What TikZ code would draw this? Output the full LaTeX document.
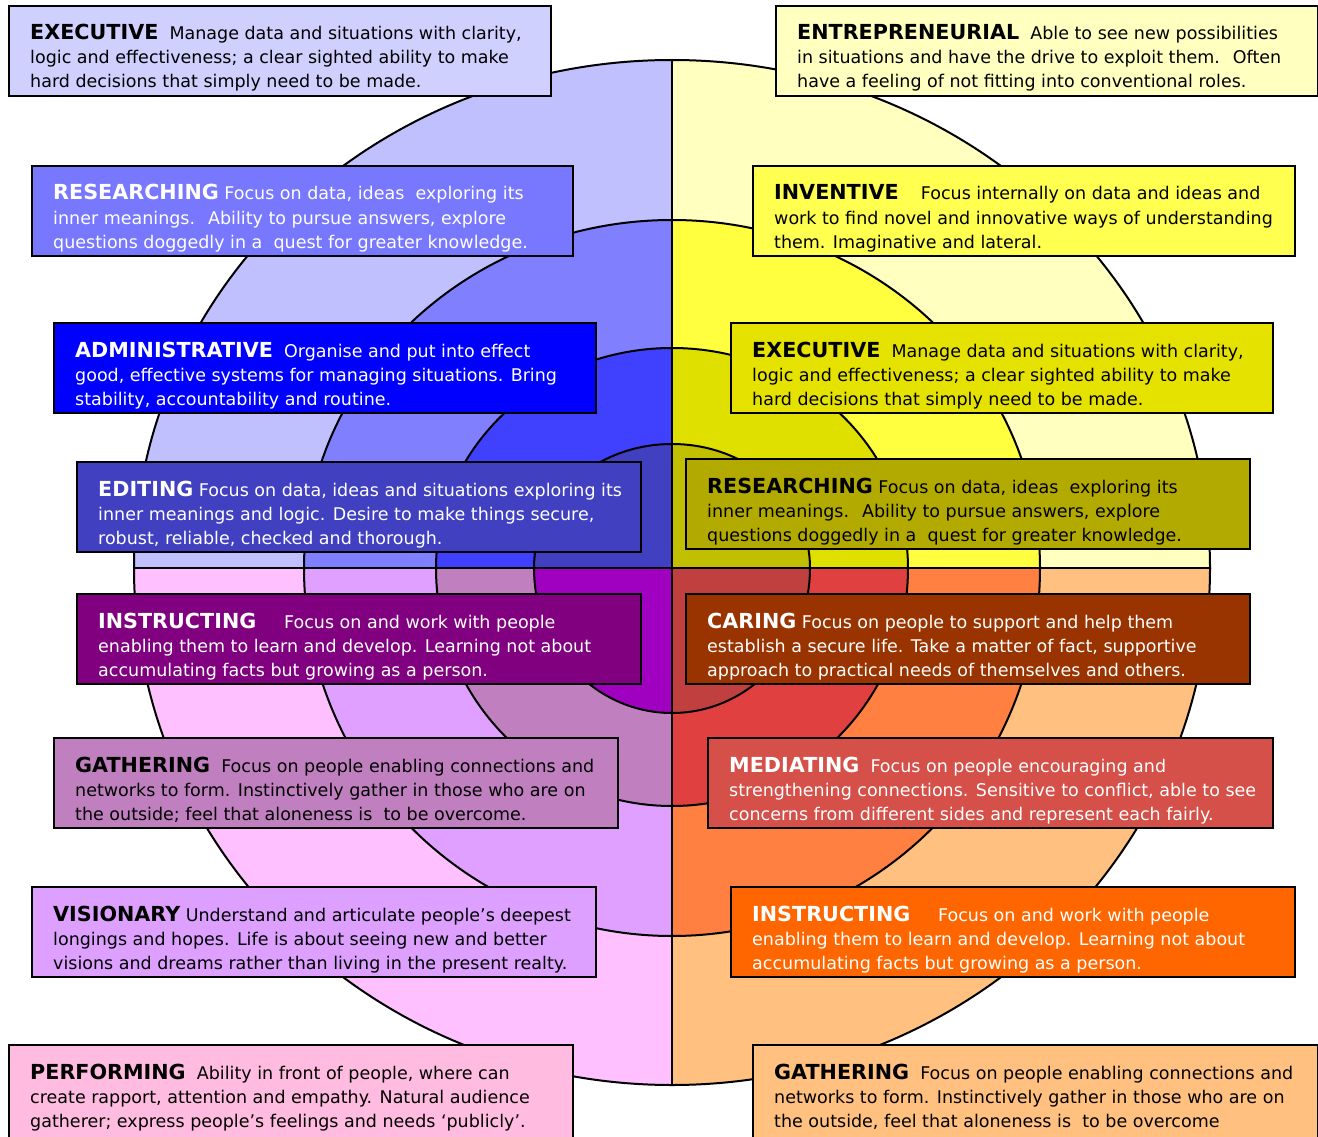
\documentclass[tikz,border=0pt]{standalone}
\usepackage{fontspec}
\setmainfont{DejaVu Sans}
\usepackage{tikz}
% wheel rings, outer to inner
\definecolor{TLa}{RGB}{192,192,255}
\definecolor{TLb}{RGB}{128,128,255}
\definecolor{TLc}{RGB}{64,64,255}
\definecolor{TLd}{RGB}{64,64,192}
\definecolor{TRa}{RGB}{255,255,192}
\definecolor{TRb}{RGB}{255,255,64}
\definecolor{TRc}{RGB}{224,224,0}
\definecolor{TRd}{RGB}{192,192,0}
\definecolor{BLa}{RGB}{255,192,255}
\definecolor{BLb}{RGB}{224,160,255}
\definecolor{BLc}{RGB}{192,128,192}
\definecolor{BLd}{RGB}{160,0,192}
\definecolor{BRa}{RGB}{255,192,128}
\definecolor{BRb}{RGB}{255,128,64}
\definecolor{BRc}{RGB}{224,64,64}
\definecolor{BRd}{RGB}{192,64,64}
% cards
\definecolor{ExeL}{RGB}{208,208,255}
\definecolor{ResL}{RGB}{120,120,255}
\definecolor{InsL}{RGB}{128,0,128}
\definecolor{VisL}{RGB}{221,160,255}
\definecolor{PerL}{RGB}{255,188,224}
\definecolor{InvR}{RGB}{255,255,80}
\definecolor{ExeR}{RGB}{230,226,0}
\definecolor{ResR}{RGB}{179,170,0}
\definecolor{CarR}{RGB}{153,51,0}
\definecolor{MedR}{RGB}{212,80,72}
\definecolor{InsR}{RGB}{255,102,0}

\newcommand{\ttl}[1]{{\fontsize{20.7}{24.5}\selectfont\bfseries #1}}
% name, x, y, width, box options, text colour, three lines
\newcommand{\rolecard}[9]{%
  \node[card, #5, minimum width=#4pt, anchor=north west] (#1) at (#2,#3) {};
  \begin{scope}
    \clip ([shift={(2,2)}]#1.north west) rectangle ([shift={(-2,-4)}]#1.south east);
    \node[txt, text=#6] (#1-1) at (#2+22,#3+35) {#7};
    \node[txt, text=#6] (#1-2) at (#2+22,#3+59) {#8};
    \node[txt, text=#6] (#1-3) at (#2+22,#3+83) {#9};
  \end{scope}}

\begin{document}
\begin{tikzpicture}[x=1pt, y=-1pt,
    ring/.style={draw=black, line width=2pt},
    card/.style={rectangle, draw=black, line width=2pt, minimum height=90pt, inner sep=0pt},
    txt/.style={anchor=base west, inner sep=0pt, font=\fontsize{17.5}{24.5}\selectfont}
  ]
  \useasboundingbox (0,0) rectangle (1318,1137);
  \coordinate (o) at (672,568);

  % the wheel, one quadrant at a time
  \begin{scope}
    \clip (0,0) rectangle (o);
    \foreach \rx/\ry/\c in {538/508/TLa, 368/348/TLb, 236/220/TLc, 138/124/TLd}
      \filldraw[ring, fill=\c] (o) ellipse [x radius=\rx, y radius=\ry];
  \end{scope}
  \begin{scope}
    \clip (o) rectangle (1318,0);
    \foreach \rx/\ry/\c in {538/508/TRa, 368/348/TRb, 236/220/TRc, 138/124/TRd}
      \filldraw[ring, fill=\c] (o) ellipse [x radius=\rx, y radius=\ry];
  \end{scope}
  \begin{scope}
    \clip (0,1137) rectangle (o);
    \foreach \rx/\ry/\c in {538/517/BLa, 368/368/BLb, 236/238/BLc, 138/145/BLd}
      \filldraw[ring, fill=\c] (o) ellipse [x radius=\rx, y radius=\ry];
  \end{scope}
  \begin{scope}
    \clip (o) rectangle (1318,1137);
    \foreach \rx/\ry/\c in {538/517/BRa, 368/368/BRb, 236/238/BRc, 138/145/BRd}
      \filldraw[ring, fill=\c] (o) ellipse [x radius=\rx, y radius=\ry];
  \end{scope}
  \draw[ring] (672,60) -- (672,1085);
  \draw[ring] (133,568) -- (1210,568);

  % left column
  \rolecard{ex}{8}{5}{542}{fill=ExeL}{black}
    {\ttl{EXECUTIVE}~ Manage data and situations with clarity,}
    {logic and effectiveness; a clear sighted ability to make}
    {hard decisions that simply need to be made.}
  \rolecard{res}{31}{165}{541}{fill=ResL}{white}
    {\ttl{RESEARCHING} Focus on data, ideas~ exploring its}
    {inner meanings.~ Ability to pursue answers, explore}
    {questions doggedly in a~ quest for greater knowledge.}
  \rolecard{adm}{53}{322}{542}{fill=blue}{white}
    {\ttl{ADMINISTRATIVE}~ Organise and put into effect}
    {good, effective systems for managing situations. Bring}
    {stability, accountability and routine.}
  \rolecard{edi}{76}{461}{564}{fill=TLd}{white}
    {\ttl{EDITING} Focus on data, ideas and situations exploring its}
    {inner meanings and logic. Desire to make things secure,}
    {robust, reliable, checked and thorough.}
  \rolecard{ins}{76}{593}{564}{fill=InsL}{white}
    {\ttl{INSTRUCTING}~~~~ Focus on and work with people}
    {enabling them to learn and develop. Learning not about}
    {accumulating facts but growing as a person.}
  \rolecard{gat}{53}{737}{564}{fill=BLc}{black}
    {\ttl{GATHERING}~ Focus on people enabling connections and}
    {networks to form. Instinctively gather in those who are on}
    {the outside; feel that aloneness is~ to be overcome.}
  \rolecard{vis}{31}{886}{564}{fill=VisL}{black}
    {\ttl{VISIONARY} Understand and articulate people’s deepest}
    {longings and hopes. Life is about seeing new and better}
    {visions and dreams rather than living in the present realty.}
  \rolecard{per}{8}{1044}{564}{fill=PerL, minimum height=100pt}{black}
    {\ttl{PERFORMING}~ Ability in front of people, where can}
    {create rapport, attention and empathy. Natural audience}
    {gatherer; express people’s feelings and needs ‘publicly’.}

  % right column
  \rolecard{ent}{775}{5}{542}{fill=TRa}{black}
    {\ttl{ENTREPRENEURIAL}~ Able to see new possibilities}
    {in situations and have the drive to exploit them.~ Often}
    {have a feeling of not fitting into conventional roles.}
  \rolecard{inv}{752}{165}{542}{fill=InvR}{black}
    {\ttl{INVENTIVE}~~~ Focus internally on data and ideas and}
    {work to find novel and innovative ways of understanding}
    {them. Imaginative and lateral.}
  \rolecard{exr}{730}{322}{542}{fill=ExeR}{black}
    {\ttl{EXECUTIVE}~ Manage data and situations with clarity,}
    {logic and effectiveness; a clear sighted ability to make}
    {hard decisions that simply need to be made.}
  \rolecard{resr}{685}{458}{564}{fill=ResR}{black}
    {\ttl{RESEARCHING} Focus on data, ideas~ exploring its}
    {inner meanings.~ Ability to pursue answers, explore}
    {questions doggedly in a~ quest for greater knowledge.}
  \rolecard{car}{685}{593}{564}{fill=CarR}{white}
    {\ttl{CARING} Focus on people to support and help them}
    {establish a secure life. Take a matter of fact, supportive}
    {approach to practical needs of themselves and others.}
  \rolecard{med}{707}{737}{565}{fill=MedR}{white}
    {\ttl{MEDIATING}~ Focus on people encouraging and}
    {strengthening connections. Sensitive to conflict, able to see}
    {concerns from different sides and represent each fairly.}
  \rolecard{insr}{730}{886}{564}{fill=InsR}{white}
    {\ttl{INSTRUCTING}~~~~ Focus on and work with people}
    {enabling them to learn and develop. Learning not about}
    {accumulating facts but growing as a person.}
  \rolecard{gatr}{752}{1044}{565}{fill=BRa, minimum height=100pt}{black}
    {\ttl{GATHERING}~ Focus on people enabling connections and}
    {networks to form. Instinctively gather in those who are on}
    {the outside, feel that aloneness is~ to be overcome}
\end{tikzpicture}
\end{document}
